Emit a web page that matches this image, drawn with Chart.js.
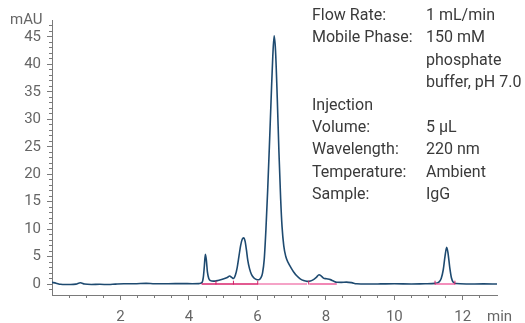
<!DOCTYPE html>
<html><head><meta charset="utf-8">
<script src="https://cdn.jsdelivr.net/npm/chart.js@4"></script>
<style>
html,body{margin:0;padding:0;background:#fff;}
#wrap{position:relative;width:525px;height:323px;overflow:hidden;}
canvas{position:absolute;left:0;top:0;}
.t{position:absolute;font-family:Roboto,sans-serif;white-space:nowrap;}
.info{font-size:16px;line-height:22.4px;color:#3a3a3a;top:4px;}
.ax{font-size:15px;color:#666;line-height:18px;}
</style></head><body>
<div id="wrap">
<canvas id="c" width="525" height="323"></canvas>
<div class="t ax" style="left:10px;top:10px;">mAU</div>
<div class="t ax" style="left:487px;top:307px;">min</div>
<div class="t info" id="lab" style="left:312px;"></div>
<div class="t info" id="val" style="left:426px;"></div>
</div>
<script>
// chromatogram trace
const timeMin = [0.00,0.12,0.25,0.40,0.55,0.70,0.83,0.95,1.15,1.40,1.65,1.85,2.10,2.40,2.75,3.00,3.40,3.80,4.10,4.30,
  4.38,4.42,4.45,4.48,4.51,4.54,4.58,4.63,4.72,4.85,5.00,5.12,5.19,5.25,5.30,5.36,5.41,5.46,5.51,5.56,5.60,5.64,5.68,5.72,5.77,5.83,5.90,5.97,
  6.04,6.10,6.15,6.20,6.25,6.30,6.35,6.40,6.45,6.49,6.53,6.58,6.63,6.68,6.72,6.77,6.83,6.90,6.98,7.06,7.15,7.25,7.35,7.45,
  7.55,7.65,7.73,7.80,7.86,7.93,8.02,8.13,8.22,8.32,8.45,8.60,8.75,8.90,9.20,9.60,10.00,10.50,10.90,
  11.20,11.30,11.37,11.43,11.48,11.53,11.57,11.62,11.67,11.72,11.80,12.10,12.60,13.00];
const absorbance = [0.30,0.15,-0.05,-0.10,-0.10,-0.02,0.22,0.00,-0.08,-0.05,-0.10,-0.02,0.05,0.05,0.12,0.05,0.05,0.08,0.05,0.08,
  0.25,1.2,3.2,5.4,4.3,2.2,1.0,0.62,0.52,0.65,0.9,1.2,1.45,1.2,1.0,1.7,3.0,5.0,7.0,8.2,8.4,7.8,6.2,4.3,2.8,1.7,1.1,0.82,
  0.78,1.1,2.0,4.5,10,17,25,33.5,41.5,45.2,42.5,34,24,15.5,10.5,7.0,5.0,3.9,3.0,2.2,1.5,0.95,0.62,0.48,
  0.55,0.85,1.25,1.7,1.5,1.08,0.95,0.8,0.55,0.32,0.3,0.35,0.25,0.05,0.0,0.02,0.05,0.0,0.05,
  0.12,0.35,1.0,2.6,5.0,6.7,5.6,3.0,1.1,0.35,0.08,0.0,0.02,0.0];

// integration baselines and peak marks
const baseSegStart = [4.37, 6.01, 7.52, 11.19];
const baseSegEnd   = [6.01, 7.45, 8.32, 11.77];
const baseSegColor = ['#d8236c', '#f284b4', '#ec5f9c', '#f06aa6'];
const peakMarks = [4.79, 5.30, 6.01, 7.50, 11.19, 11.77];

// axis ticks
const xTickLabels = [2, 4, 6, 8, 10, 12];
const yTickLabels = [0, 5, 10, 15, 20, 25, 30, 35, 40, 45];
const xMinorTicks = [0.5,1,1.5,2,2.5,3,3.5,4,4.5,5,5.5,6,6.5,7,7.5,8,8.5,9,9.5,10,10.5,11,11.5,12,12.5];
const yMinorTicks = [];
for (let v = -1; v <= 47; v++) yMinorTicks.push(v);

// info text
const infoLabels = ['Flow Rate:', 'Mobile Phase:', '', '', 'Injection', 'Volume:', 'Wavelength:', 'Temperature:', 'Sample:'];
const infoValues = ['1 mL/min', '150 mM', 'phosphate', 'buffer, pH 7.0', '', '5 µL', '220 nm', 'Ambient', 'IgG'];

function fillCol(id, arr) {
  const el = document.getElementById(id);
  arr.forEach(s => { const d = document.createElement('div'); d.textContent = s || '\u00a0'; el.appendChild(d); });
}
fillCol('lab', infoLabels);
fillCol('val', infoValues);

const trace = timeMin.map((t, i) => ({x: t, y: absorbance[i]}));
const datasets = [{
  data: trace, borderColor: '#1e4a70', borderWidth: 1.6, pointRadius: 0,
  cubicInterpolationMode: 'monotone', order: 2
}];
baseSegStart.forEach((s, i) => {
  datasets.push({data: [{x: s, y: 0}, {x: baseSegEnd[i], y: 0}], borderColor: baseSegColor[i],
    borderWidth: 1.5, pointRadius: 0, order: 1});
});
const markData = [];
peakMarks.forEach(m => { markData.push({x: m, y: -0.1}, {x: m, y: 0.6}, {x: m, y: null}); });
datasets.push({data: markData, borderColor: '#d01f66', borderWidth: 1, pointRadius: 0, spanGaps: false, order: 0});

const axisColor = '#7a7a7a';
const tickFont = {family: 'Roboto', size: 15};
new Chart(document.getElementById('c'), {
  type: 'line',
  data: {datasets},
  options: {
    responsive: false, animation: false,
    layout: {padding: {top: 20.5, right: 28, left: 0, bottom: 0}},
    plugins: {legend: {display: false}, tooltip: {enabled: false}},
    scales: {
      x: {type: 'linear', position: 'bottom', min: 0, max: 13, weight: 1,
        afterBuildTicks: a => { a.ticks = xTickLabels.map(v => ({value: v})); },
        afterFit: a => { a.height = 28; },
        ticks: {font: tickFont, color: '#666', padding: 8, autoSkip: false, maxRotation: 0},
        grid: {drawOnChartArea: false, drawTicks: true, tickLength: 5, color: axisColor, tickColor: axisColor},
        border: {display: true, color: axisColor, width: 1}},
      xMinor: {type: 'linear', position: 'bottom', min: 0, max: 13, weight: 0,
        afterBuildTicks: a => { a.ticks = xMinorTicks.map(v => ({value: v})); },
        afterFit: a => { a.height = 0; },
        ticks: {display: false},
        grid: {drawOnChartArea: false, drawTicks: true, tickLength: 3, color: axisColor, tickColor: axisColor},
        border: {display: false}},
      y: {type: 'linear', position: 'left', min: -2, max: 48, weight: 1,
        afterBuildTicks: a => { a.ticks = yTickLabels.map(v => ({value: v})); },
        afterFit: a => { a.width = 52; },
        ticks: {font: tickFont, color: '#666', padding: 6, autoSkip: false},
        grid: {drawOnChartArea: false, drawTicks: true, tickLength: 5, color: axisColor, tickColor: axisColor},
        border: {display: true, color: axisColor, width: 1}},
      yMinor: {type: 'linear', position: 'left', min: -2, max: 48, weight: 0,
        afterBuildTicks: a => { a.ticks = yMinorTicks.map(v => ({value: v})); },
        afterFit: a => { a.width = 0; },
        ticks: {display: false},
        grid: {drawOnChartArea: false, drawTicks: true, tickLength: 3, color: axisColor, tickColor: axisColor},
        border: {display: false}}
    }
  }
});
</script>
</body></html>
